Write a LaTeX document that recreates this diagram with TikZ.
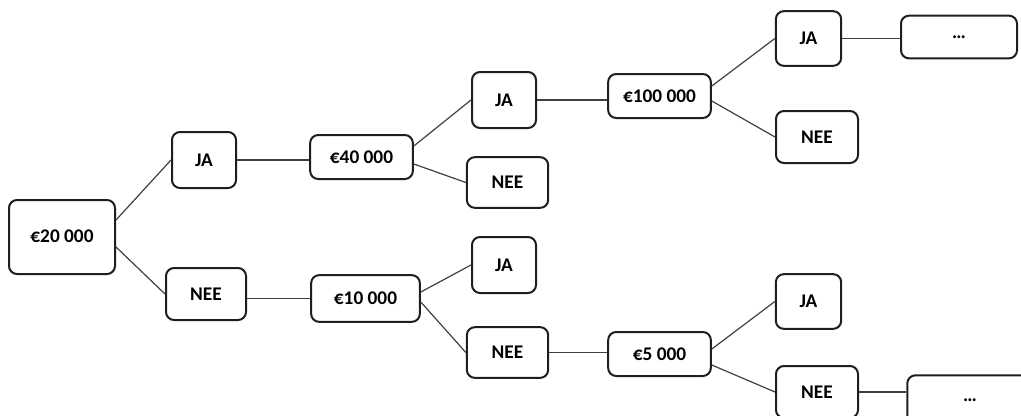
\documentclass[tikz,border=0pt]{standalone}
\usepackage{fontspec}
\setmainfont{Carlito}
\definecolor{boxline}{HTML}{1E1E1E}
\definecolor{conn}{HTML}{404040}
\begin{document}
\begin{tikzpicture}[x=0.75pt,y=-0.75pt,
  box/.style={draw=boxline,line width=1.5pt,rounded corners=6pt,inner sep=0pt,
    font=\bfseries\fontsize{14.5}{16}\selectfont,text=black},
  conn/.style={draw=conn,line width=0.9pt}]
\useasboundingbox (0,0) rectangle (1021,415);
\clip (0,0) rectangle (1021,415);
% nodes
\node[box,minimum width=79.5pt,minimum height=55.5pt] (n20) at (62,237) {\raisebox{2pt}{€20 000}};
\node[box,minimum width=48pt,minimum height=42pt] (ja1) at (204,160) {JA};
\node[box,minimum width=60pt,minimum height=39pt] (nee1) at (206,294) {NEE};
\node[box,minimum width=77pt,minimum height=33pt] (n40) at (361.5,157) {€40 000};
\node[box,minimum width=81.5pt,minimum height=35pt] (n10) at (365.5,298.5) {€10 000};
\node[box,minimum width=48pt,minimum height=42pt] (ja2) at (504,100) {JA};
\node[box,minimum width=61pt,minimum height=38pt] (nee2) at (507.5,182.5) {NEE};
\node[box,minimum width=48pt,minimum height=42pt] (ja3) at (504,265) {JA};
\node[box,minimum width=61pt,minimum height=38pt] (nee3) at (507.5,352.5) {NEE};
\node[box,minimum width=77pt,minimum height=33pt] (n100) at (659.5,96) {€100 000};
\node[box,minimum width=77pt,minimum height=33pt] (n5) at (659.5,354) {€5 000};
\node[box,minimum width=49pt,minimum height=41pt] (ja4) at (808.5,38.5) {JA};
\node[box,minimum width=61.5pt,minimum height=39pt] (nee4) at (817,137) {NEE};
\node[box,minimum width=49pt,minimum height=41pt] (ja5) at (808.5,301.5) {JA};
\node[box,minimum width=61.5pt,minimum height=39pt] (nee5) at (817,392) {NEE};
\node[box,minimum width=87pt,minimum height=32pt] (dots1) at (959,37) {…};
\node[box,minimum width=94pt,minimum height=37pt] (dots2) at (970,400) {…};
% connectors
\draw[conn] (n20.east) ++(0,-17) -- (ja1.west);
\draw[conn] (n20.east) ++(0,10) -- (nee1.west);
\draw[conn] (ja1.east) -- (ja1.east -| n40.west);
\draw[conn] (n10.west) -- (n10.west -| nee1.east);
\draw[conn] (n40.east) ++(0,-11) -- (ja2.west);
\draw[conn] (n40.east) ++(0,7) -- (nee2.west);
\draw[conn] (n10.east) ++(0,-6.5) -- (ja3.west);
\draw[conn] (n10.east) ++(0,3.5) -- (nee3.west);
\draw[conn] (ja2.east) -- (ja2.east -| n100.west);
\draw[conn] (nee3.east) -- (nee3.east -| n5.west);
\draw[conn] (n100.east) ++(0,-10) -- (ja4.west);
\draw[conn] (n100.east) ++(0,5) -- (nee4.west);
\draw[conn] (n5.east) ++(0,-5) -- (ja5.west);
\draw[conn] (n5.east) ++(0,11) -- (nee5.west);
\draw[conn] (ja4.east) -- (ja4.east -| dots1.west);
\draw[conn] (nee5.east) -- (nee5.east -| dots2.west);
\end{tikzpicture}
\end{document}
